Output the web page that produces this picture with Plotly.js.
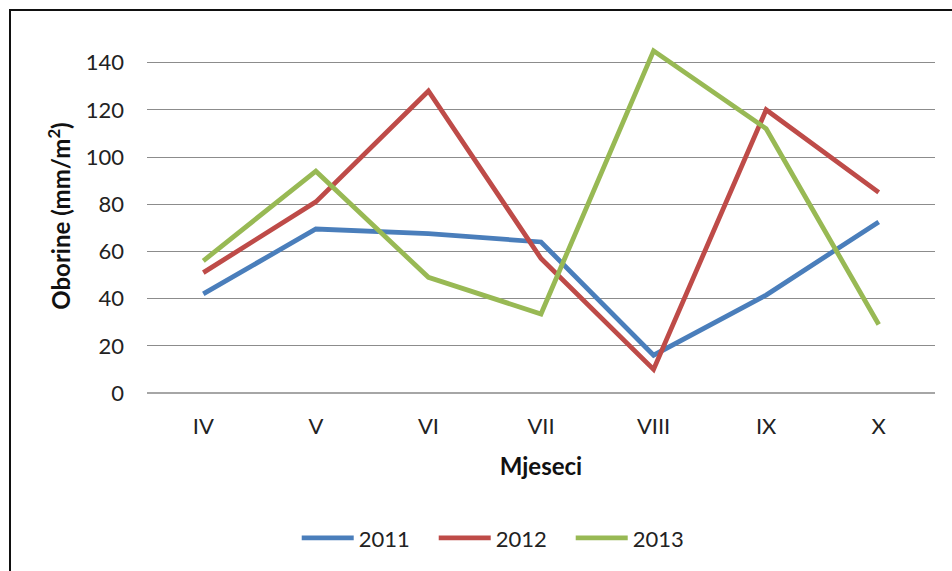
<!DOCTYPE html>
<html>
<head>
<meta charset="utf-8">
<script src="https://cdn.plot.ly/plotly-3.0.1.min.js"></script>
<style>
html,body{margin:0;padding:0;background:#fff;}
#wrap{position:relative;width:952px;height:571px;overflow:hidden;}
#chart{position:absolute;left:0;top:0;width:952px;height:571px;}
#frame{position:absolute;left:9px;top:9px;width:1000px;height:700px;border-left:2px solid #111;border-top:2px solid #111;pointer-events:none;}
</style>
</head>
<body>
<div id="wrap"><div id="chart"></div><div id="frame"></div></div>
<script>
const months = ["IV", "V", "VI", "VII", "VIII", "IX", "X"];
const y2011 = [42, 69.5, 67.5, 64, 16, 41.5, 72.5];
const y2012 = [51, 81, 128, 57, 10, 120, 85];
const y2013 = [56, 94, 49, 33.5, 145, 112, 29];
const seriesNames = ["2011", "2012", "2013"];
const yTicks = [0, 20, 40, 60, 80, 100, 120, 140];

const colors = ["#4A7EBB", "#BE4B48", "#98B954"];
const data = [y2011, y2012, y2013].map((ys, i) => ({
  type: "scatter", mode: "lines", x: months, y: ys, name: seriesNames[i],
  line: {color: colors[i], width: 4.8}, cliponaxis: false
}));

const font = "Lato, 'Open Sans', sans-serif";
const layout = {
  width: 952, height: 571,
  margin: {l: 147, r: 17, t: 38.7, b: 178.3, pad: 0},
  paper_bgcolor: "#fff", plot_bgcolor: "#fff",
  showlegend: true,
  font: {family: font, color: "#222", size: 22},
  xaxis: {
    type: "category", range: [-0.5, 6.5], showgrid: false, zeroline: false,
    showline: false, ticks: "", ticklabelstandoff: 18,
    tickfont: {family: font, size: 22, color: "#222"},
    title: {text: "Mjeseci", font: {family: font, size: 24, color: "#111", weight: "bold"}, standoff: 20}
  },
  yaxis: {
    range: [0, 150], tickvals: yTicks, ticktext: yTicks.map(String),
    showgrid: true, gridcolor: "#8c8c8c", gridwidth: 1,
    zeroline: true, zerolinecolor: "#a6a6a6", zerolinewidth: 2,
    showline: false, ticks: "", ticklabelstandoff: 22,
    tickfont: {family: font, size: 22, color: "#222"},
    title: {text: "<b>Oborine (mm/m<sup>2</sup>)</b>", font: {family: font, size: 24, color: "#111"}, standoff: 8}
  },
  legend: {
    orientation: "h", x: 0.19, xanchor: "left", y: -0.41, yanchor: "middle",
    font: {family: font, size: 22, color: "#222"}, entrywidth: 70, entrywidthmode: "pixels",
    itemwidth: 52, bgcolor: "rgba(0,0,0,0)"
  }
};
Plotly.newPlot("chart", data, layout, {displayModeBar: false, staticPlot: true});
</script>
</body>
</html>
